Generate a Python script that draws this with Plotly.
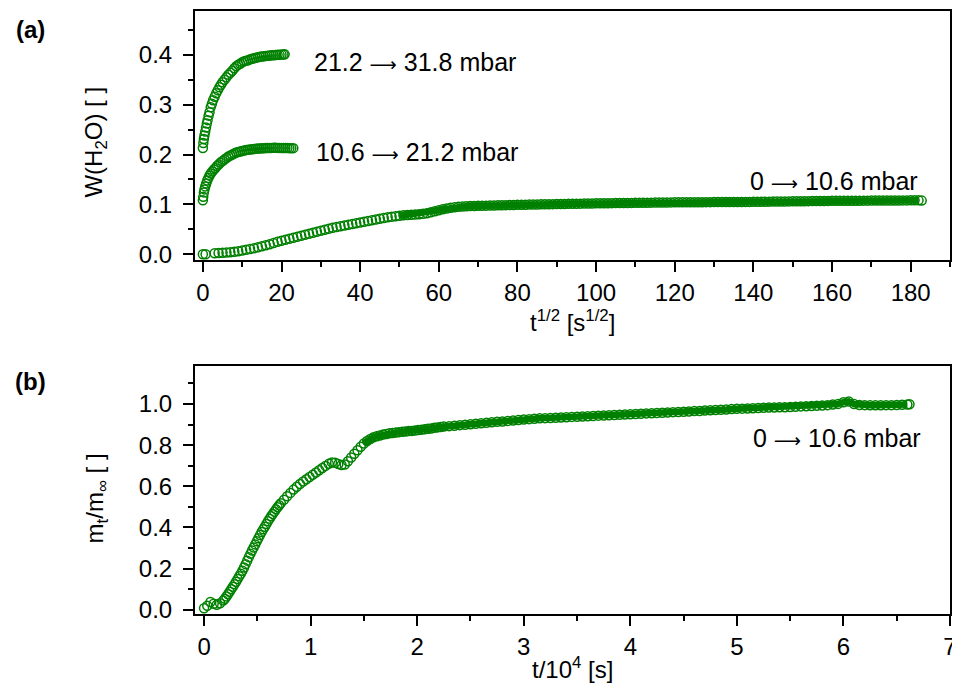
import plotly.graph_objects as go

# ---- panel (a): W(H2O) vs sqrt(t) ----
# 21.2 -> 31.8 mbar
x3 = [0, 0.12, 0.25, 0.4, 0.6, 0.8, 1.0, 1.2, 1.45, 1.7, 2.0, 2.3, 2.6, 3.0, 3.4, 3.8,
      4.2, 4.6, 5.0, 5.5, 6.0, 6.5, 7.0, 7.5, 8.0, 8.5, 9.0, 9.5, 10.0, 10.5, 11.0, 11.5,
      12.0, 12.5, 13.0, 13.5, 14.0, 14.5, 15.0, 15.5, 16.0, 16.5, 17.0, 17.5, 18.0, 18.5,
      19.0, 19.5, 20.0, 20.5, 20.8]
w3 = [.213, .223, .231, .238, .246, .254, .262, .269, .278, .285, .295, .302, .309, .316, .323, .329,
      .335, .340, .345, .350, .355, .360, .364, .368, .373, .377, .380, .382, .385, .387, .388, .389,
      .391, .392, .393, .394, .395, .396, .3965, .397, .3975, .398, .3985, .399, .399, .3995,
      .400, .400, .4005, .4005, .401]

# 10.6 -> 21.2 mbar
x2 = [0, 0.1, 0.25, 0.4, 0.6, 0.85, 1.1, 1.4, 1.7, 2.0,
      2.4, 2.8, 3.2, 3.6, 4.0, 4.5, 5.0, 5.5, 6.0, 6.5,
      7.0, 7.5, 8.0, 8.5, 9.0, 9.5, 10.0, 10.5, 11, 11.5,
      12, 12.5, 13, 13.5, 14, 14.5, 15, 15.5, 16, 16.5,
      17, 17.5, 18, 18.5, 19, 19.5, 20, 20.5, 21, 21.5,
      22, 22.5, 23.0]
w2 = [.108, .115, .124, .130, .136, .142, .148, .153, .158, .162,
      .166, .170, .173, .177, .180, .184, .187, .190, .193, .196,
      .198, .200, .202, .204, .205, .206, .207, .208, .209, .2095,
      .210, .2105, .211, .2115, .212, .212, .2125, .2125, .213, .213,
      .213, .2133, .2135, .2135, .2133, .2133, .213, .213, .213, .213,
      .2128, .2128, .2128]

# 0 -> 10.6 mbar
x1 = [0, 0.7,
      3, 4, 5, 6, 7, 8, 9, 10, 11, 12,
      13, 14, 15, 16, 17, 18, 19, 20, 21, 22,
      23, 24, 25, 26, 27, 28, 29, 30, 31, 32,
      33, 34, 35, 36, 37, 38, 39, 40, 41, 42,
      43, 44, 45, 46, 47, 48, 49, 50, 51, 52,
      53, 54, 55, 56, 57, 58, 59, 60, 61, 62,
      63, 64, 65, 66, 67, 68, 69, 70, 71, 72,
      73, 74, 75, 76, 77, 78, 79, 80, 81, 82,
      83, 84, 85, 86, 87, 88, 89, 90, 91, 92,
      93, 94, 95, 96, 97, 98, 99, 100, 101, 102,
      103, 104, 105, 106, 107, 108, 109, 110, 111, 112,
      113, 114, 115, 116, 117, 118, 119, 120, 121, 122,
      123, 124, 125, 126, 127, 128, 129, 130, 131, 132,
      133, 134, 135, 136, 137, 138, 139, 140, 141, 142,
      143, 144, 145, 146, 147, 148, 149, 150, 151, 152,
      153, 154, 155, 156, 157, 158, 159, 160, 161, 162,
      163, 164, 165, 166, 167, 168, 169, 170, 171, 172,
      173, 174, 175, 176, 177, 178, 179, 180, 181, 182,
      182.8]
w1 = [0.0, 0.0,
      .002, .0025, .003, .0035, .004, .005, .006, .0075, .009, .0105,
      .012, .014, .016, .018, .020, .0225, .025, .027, .029, .031,
      .033, .035, .037, .039, .041, .043, .045, .047, .049, .051,
      .053, .0545, .056, .0575, .059, .0605, .062, .0635, .065, .0665,
      .068, .0695, .071, .0725, .074, .075, .076, .077, .078, .0785,
      .079, .0795, .080, .081, .082, .084, .086, .088, .090, .0915,
      .093, .094, .095, .0955, .096, .0965, .0968, .097, .0972, .0974,
      .0976, .0978, .098, .0982, .0984, .0986, .0988, .099, .0992, .0993,
      .0995, .0996, .0998, .1000, .1001, .1002, .1004, .1005, .1007, .1008,
      .1010, .1011, .1013, .1014, .1016, .1017, .1018, .1020, .1021, .1022,
      .1023, .1024, .1025, .1026, .1027, .1028, .1029, .1030, .1031, .1032,
      .1033, .1034, .1035, .1036, .1037, .1038, .1039, .1040, .1040, .1041,
      .1041, .1042, .1042, .1043, .1043, .1044, .1044, .1045, .1045, .1046,
      .1046, .1047, .1047, .1048, .1048, .1049, .1049, .1050, .1051, .1052,
      .1053, .1054, .1055, .1056, .1057, .1058, .1059, .1060, .1061, .1062,
      .1063, .1064, .1065, .1066, .1067, .1068, .1069, .1070, .1070, .1071,
      .1071, .1072, .1072, .1073, .1073, .1074, .1074, .1075, .1075, .1076,
      .1076, .1077, .1077, .1078, .1078, .1079, .1079, .1080, .1080, .1080,
      .1075]

# ---- panel (b): m_t/m_inf vs t/1e4 ----
tb = [0.00, 0.03, 0.06, 0.09, 0.12, 0.15,
      0.18, 0.195, 0.21, 0.225, 0.24, 0.255, 0.27, 0.285, 0.30, 0.315,
      0.33, 0.345, 0.36, 0.375, 0.39, 0.405, 0.42, 0.435, 0.45, 0.465,
      0.48, 0.495, 0.51, 0.525, 0.54, 0.555, 0.57, 0.585, 0.60, 0.615,
      0.63, 0.645, 0.66, 0.675, 0.69, 0.705, 0.72,
      0.75, 0.78, 0.81, 0.84, 0.87, 0.90, 0.93, 0.96, 0.99, 1.02,
      1.05, 1.08, 1.11, 1.14, 1.17, 1.20, 1.23, 1.26, 1.29, 1.32,
      1.35, 1.38, 1.41, 1.44, 1.47, 1.50, 1.53, 1.56, 1.59, 1.62,
      1.65, 1.68, 1.71, 1.74, 1.77, 1.80, 1.83, 1.86, 1.89, 1.92,
      1.95, 1.98, 2.01, 2.04, 2.07, 2.10, 2.13, 2.16, 2.19, 2.22, 2.25,
      2.30, 2.35, 2.40, 2.45, 2.50, 2.55, 2.60, 2.65, 2.70, 2.75,
      2.80, 2.85, 2.90, 2.95, 3.00, 3.05, 3.10, 3.15, 3.20, 3.25,
      3.30, 3.35, 3.40, 3.45, 3.50, 3.55, 3.60, 3.65, 3.70, 3.75,
      3.80, 3.85, 3.90, 3.95, 4.00, 4.05, 4.10, 4.15, 4.20, 4.25,
      4.30, 4.35, 4.40, 4.45, 4.50, 4.55, 4.60, 4.65, 4.70, 4.75,
      4.80, 4.85, 4.90, 4.95, 5.00, 5.05, 5.10, 5.15, 5.20, 5.25,
      5.30, 5.35, 5.40, 5.45, 5.50, 5.55, 5.60, 5.65, 5.70, 5.75,
      5.80, 5.85, 5.90, 5.95, 6.00, 6.05, 6.10, 6.15, 6.20, 6.25,
      6.30, 6.35, 6.40, 6.45, 6.50, 6.55, 6.60, 6.62]
mb = [.008, .020, .038, .030, .025, .032,
      .045, .054, .065, .076, .088, .100, .112, .124, .137, .150,
      .163, .176, .190, .206, .222, .239, .256, .272, .288, .303,
      .318, .333, .348, .363, .378, .391, .404, .417, .430, .443,
      .455, .466, .477, .488, .498, .508, .518,
      .535, .552, .568, .584, .598, .611, .623, .634, .645, .656,
      .667, .678, .689, .699, .709, .716, .714, .708, .703, .706,
      .722, .740, .758, .775, .792, .808, .820, .830, .838, .843,
      .847, .851, .854, .857, .859, .861, .863, .865, .866, .868,
      .869, .871, .873, .875, .877, .879, .881, .884, .886, .888, .890,
      .892, .894, .897, .899, .901, .904, .906, .908, .911, .913,
      .915, .917, .919, .922, .924, .926, .928, .930, .931, .932,
      .933, .934, .935, .937, .938, .939, .940, .941, .943, .944,
      .945, .946, .947, .949, .950, .951, .952, .954, .955, .956,
      .957, .958, .960, .961, .962, .963, .965, .966, .968, .969,
      .970, .972, .973, .975, .976, .977, .978, .979, .980, .981,
      .982, .983, .984, .984, .985, .986, .988, .989, .990, .991,
      .992, .994, .997, 1.000, 1.008, 1.012, .999, .995, .994, .993,
      .993, .993, .994, .994, .995, .996, .997, .998]

# inward ticks on the right-hand frame
right_ticks_a = [0.05, 0.15, 0.25, 0.35, 0.45]
right_ticks_b = [0.0, 0.2, 0.4, 0.6, 0.8, 1.0]

GREEN = "rgb(0,128,0)"
FONT = "Arial, Liberation Sans, sans-serif"
ARROW = '<span style="font-family:DejaVu Sans;font-size:19px">\u27f6</span>'


def marker_trace(x, y, xa, ya):
    return go.Scatter(x=x, y=y, mode="markers", xaxis=xa, yaxis=ya, showlegend=False,
                      hoverinfo="skip",
                      marker=dict(symbol="circle-open", size=9, color=GREEN,
                                  line=dict(width=1.5, color=GREEN)))


def band_trace(x, y, xa, ya):
    # dense, overlapping markers in the flat part read as a solid band
    return go.Scatter(x=x, y=y, mode="lines", xaxis=xa, yaxis=ya, showlegend=False,
                      hoverinfo="skip", line=dict(color=GREEN, width=6.5))


fig = go.Figure()
k1 = x1.index(50)
kb = tb.index(1.50)
fig.add_trace(band_trace(x1[k1:-1], w1[k1:-1], "x", "y"))
fig.add_trace(band_trace(tb[kb:-1], mb[kb:-1], "x2", "y2"))
fig.add_trace(marker_trace(x1, w1, "x", "y"))
fig.add_trace(marker_trace(x2, w2, "x", "y"))
fig.add_trace(marker_trace(x3, w3, "x", "y"))
fig.add_trace(marker_trace(tb, mb, "x2", "y2"))

axis_common = dict(showline=True, linecolor="black", linewidth=2, mirror=True,
                   ticks="outside", ticklen=10, tickwidth=2, tickcolor="black",
                   showgrid=False, zeroline=False,
                   tickfont=dict(family=FONT, size=24, color="black"))
right_common = dict(side="right", showline=False, showgrid=False, zeroline=False,
                    ticks="inside", ticklen=4, tickwidth=1.5, tickcolor="black",
                    showticklabels=False, tickmode="array")

# page body has an 8px margin, so the figure is 8px smaller than the window
fig.update_layout(
    width=952, height=678,
    margin=dict(l=187, r=10, t=1, b=72),
    paper_bgcolor="white", plot_bgcolor="white",
    font=dict(family=FONT, color="black"),
    xaxis=dict(domain=[0, 1], range=[-2, 190], anchor="y", dtick=20, tick0=0,
               minor=dict(dtick=10, ticklen=5, tickwidth=2, tickcolor="black", ticks="outside"),
               **axis_common),
    yaxis=dict(domain=[0.5868, 1], range=[-0.012, 0.488], anchor="x", dtick=0.1, tick0=0,
               tickformat=".1f", ticklabelstandoff=6,
               minor=dict(dtick=0.05, ticklen=5, tickwidth=2, tickcolor="black", ticks="outside"),
               **axis_common),
    xaxis2=dict(domain=[0, 1], range=[-0.085, 7], anchor="y2", dtick=1, tick0=0,
                minor=dict(dtick=0.5, ticklen=5, tickwidth=2, tickcolor="black", ticks="outside"),
                **axis_common),
    yaxis2=dict(domain=[0, 0.4116], range=[-0.02, 1.185], anchor="x2", dtick=0.2, tick0=0,
                tickformat=".1f", ticklabelstandoff=6,
                minor=dict(dtick=0.1, ticklen=5, tickwidth=2, tickcolor="black", ticks="outside"),
                **axis_common),
    yaxis3=dict(overlaying="y", anchor="x", range=[-0.012, 0.488], tickvals=right_ticks_a,
                **right_common),
    yaxis4=dict(overlaying="y2", anchor="x2", range=[-0.02, 1.185], tickvals=right_ticks_b,
                **right_common),
)


def px_x(p):
    return (p - 195) / 755


def px_y(p):
    return (614 - p) / 605


notes = [
    dict(x=px_x(30), y=px_y(28), text="<b>(a)</b>", size=24, xanchor="center"),
    dict(x=px_x(30), y=px_y(381), text="<b>(b)</b>", size=24, xanchor="center"),
    dict(x=px_x(312), y=px_y(60), text="21.2 " + ARROW + " 31.8 mbar", size=25, xanchor="left"),
    dict(x=px_x(314), y=px_y(150), text="10.6 " + ARROW + " 21.2 mbar", size=25, xanchor="left"),
    dict(x=px_x(920), y=px_y(180), text="0 " + ARROW + " 10.6 mbar", size=25, xanchor="right"),
    dict(x=px_x(923), y=px_y(437), text="0 " + ARROW + " 10.6 mbar", size=25, xanchor="right"),
    dict(x=px_x(572), y=px_y(320), text="t<sup>1/2</sup> [s<sup>1/2</sup>]", size=24,
         xanchor="center"),
    dict(x=px_x(572), y=px_y(668), text="t/10<sup>4</sup> [s]", size=24, xanchor="center"),
]
for n in notes:
    fig.add_annotation(x=n["x"], y=n["y"], xref="paper", yref="paper", text=n["text"],
                       showarrow=False, xanchor=n["xanchor"], yanchor="middle",
                       font=dict(family=FONT, size=n["size"], color="black"))

fig.add_annotation(x=px_x(96), y=px_y(141), xref="paper", yref="paper",
                   text="W(H<sub>2</sub>O) [ ]", textangle=-90, showarrow=False,
                   xanchor="center", yanchor="middle",
                   font=dict(family=FONT, size=24, color="black"))
fig.add_annotation(x=px_x(96), y=px_y(498), xref="paper", yref="paper",
                   text="m<sub>t</sub>/m<sub>\u221e</sub> [ ]", textangle=-90, showarrow=False,
                   xanchor="center", yanchor="middle",
                   font=dict(family=FONT, size=24, color="black"))

fig.write_html("out.html")
